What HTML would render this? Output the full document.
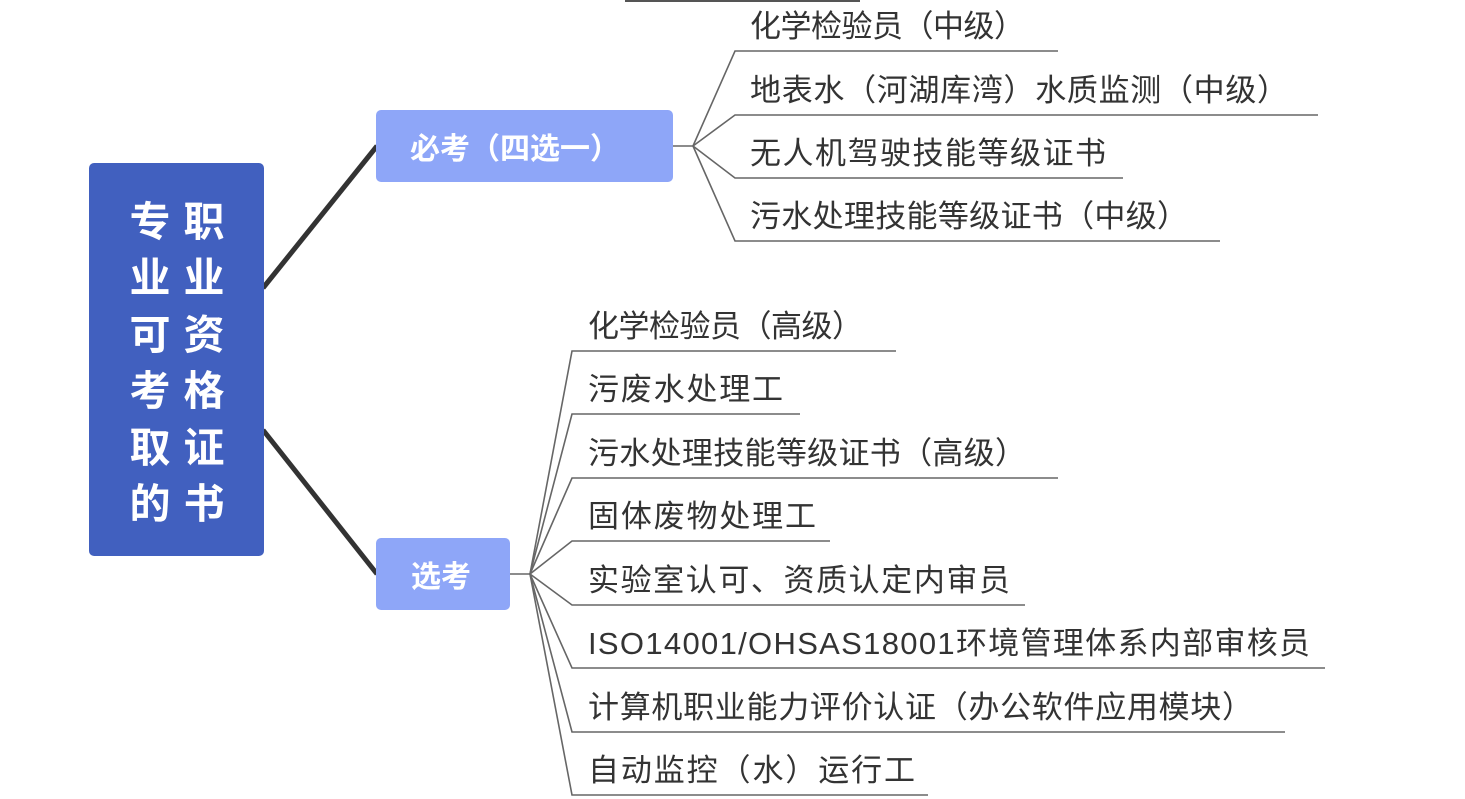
<!DOCTYPE html>
<html><head><meta charset="utf-8"><style>
html,body{margin:0;padding:0;background:#fff;}
svg{display:block;}
.t{font-family:"Liberation Sans","Noto Sans CJK SC",sans-serif;font-size:31px;fill:#333;}
.w{font-family:"Liberation Sans","Noto Sans CJK SC",sans-serif;font-weight:bold;fill:#fff;}
</style></head><body>
<svg width="1465" height="799" viewBox="0 0 1465 799" xmlns="http://www.w3.org/2000/svg">
<line x1="625" y1="1" x2="860" y2="1" stroke="#555" stroke-width="2"/>
<line x1="263" y1="288" x2="377" y2="146" stroke="#333" stroke-width="5"/>
<line x1="263" y1="430" x2="377" y2="574" stroke="#333" stroke-width="5"/>
<rect x="89" y="163" width="175" height="393" rx="5" fill="#4160bf"/>
<g class="w" font-size="41" text-anchor="middle">
<text x="150" y="236">专</text><text x="204" y="236">职</text>
<text x="150" y="292">业</text><text x="204" y="292">业</text>
<text x="150" y="349">可</text><text x="204" y="349">资</text>
<text x="150" y="405">考</text><text x="204" y="405">格</text>
<text x="150" y="462">取</text><text x="204" y="462">证</text>
<text x="150" y="518">的</text><text x="204" y="518">书</text>
</g>
<rect x="376" y="110" width="297" height="72" rx="5" fill="#8ea6f8"/>
<text class="w" x="515" y="159" font-size="30" text-anchor="middle">必考（四选一）</text>
<rect x="376" y="538" width="134" height="72" rx="5" fill="#8ea6f8"/>
<text class="w" x="441" y="587" font-size="30" text-anchor="middle">选考</text>
<g stroke="#666" stroke-width="1.6" fill="none">
<line x1="673" y1="146" x2="693" y2="146"/>
<polyline points="693,146 735,51 1058,51"/>
<polyline points="693,146 735,115 1318,115"/>
<polyline points="693,146 735,178 1123,178"/>
<polyline points="693,146 735,241 1220,241"/>
</g>
<g class="t">
<text x="750" y="37" textLength="275">化学检验员（中级）</text>
<text x="750" y="101" textLength="538">地表水（河湖库湾）水质监测（中级）</text>
<text x="750" y="164" textLength="356">无人机驾驶技能等级证书</text>
<text x="750" y="227" textLength="438">污水处理技能等级证书（中级）</text>
</g>
<g stroke="#666" stroke-width="1.6" fill="none">
<line x1="510" y1="574" x2="530" y2="574"/>
<polyline points="530,574 572,351 896,351"/>
<polyline points="530,574 572,414 800,414"/>
<polyline points="530,574 572,478 1058,478"/>
<polyline points="530,574 572,541 830,541"/>
<polyline points="530,574 572,605 1025,605"/>
<polyline points="530,574 572,668 1325,668"/>
<polyline points="530,574 572,732 1285,732"/>
<polyline points="530,574 572,795 928,795"/>
</g>
<g class="t">
<text x="588" y="337" textLength="275">化学检验员（高级）</text>
<text x="588" y="400" textLength="195">污废水处理工</text>
<text x="588" y="464" textLength="438">污水处理技能等级证书（高级）</text>
<text x="588" y="527" textLength="228">固体废物处理工</text>
<text x="588" y="591" textLength="422">实验室认可、资质认定内审员</text>
<text x="588" y="654" textLength="722">ISO14001/OHSAS18001环境管理体系内部审核员</text>
<text x="588" y="718" textLength="665">计算机职业能力评价认证（办公软件应用模块）</text>
<text x="588" y="781" textLength="327">自动监控（水）运行工</text>
</g>
</svg>
</body></html>
